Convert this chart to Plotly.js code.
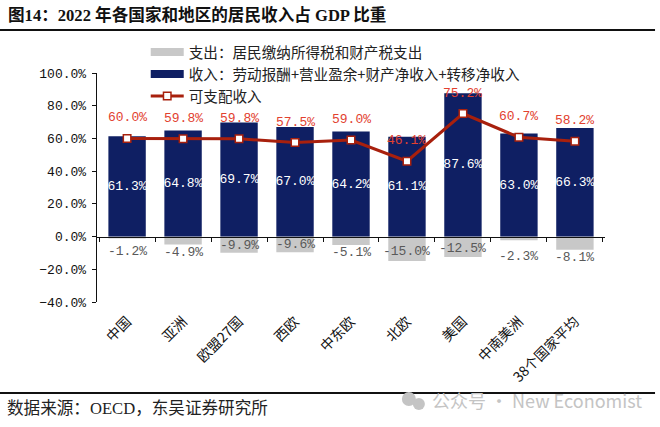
<!DOCTYPE html>
<html><head><meta charset="utf-8"><script src="https://cdn.plot.ly/plotly-3.0.1.min.js"></script>
<style>html,body{margin:0;padding:0;background:#fff}</style></head><body>
<div id="c" style="width:660px;height:427px"></div>
<script>
const categories = ['中国','亚洲','欧盟27国','西欧','中东欧','北欧','美国','中南美洲','38个国家平均'];
const income = [61.3,64.8,69.7,67.0,64.2,61.1,87.6,63.0,66.3];
const expense = [-1.2,-4.9,-9.9,-9.6,-5.1,-15.0,-12.5,-2.3,-8.1];
const disposable = [60.0,59.8,59.8,57.5,59.0,46.1,75.2,60.7,58.2];
const seriesNames = ['支出：居民缴纳所得税和财产税支出','收入：劳动报酬+营业盈余+财产净收入+转移净收入','可支配收入'];
const expenseLabelShift = [-13,-8,7,8,-8,10,9,-16,-8];

const mono = '"Liberation Mono","Noto Sans CJK SC",monospace';
const cjk = '"Noto Sans CJK SC",sans-serif';
const serif = '"Liberation Serif","Noto Sans CJK SC",serif';
const pct = v => v.toFixed(1) + '%';
const GRAY = '#C8C8C8', NAVY = '#0F1F63', RED = '#A8200D';

const traces = [
 {type:'bar',showlegend:false,x:categories,y:expense,width:0.668,marker:{color:GRAY},hoverinfo:'skip'},
 {type:'bar',showlegend:false,x:categories,y:income,width:0.668,marker:{color:NAVY},
  text:income.map(pct),textposition:'inside',insidetextanchor:'middle',textangle:0,constraintext:'none',
  textfont:{family:mono,size:13,color:'#fff'},hoverinfo:'skip'},
 {type:'scatter',mode:'lines',name:seriesNames[0],x:[null],y:[null],line:{color:GRAY,width:8}},
 {type:'scatter',mode:'lines',name:seriesNames[1],x:[null],y:[null],line:{color:NAVY,width:8}},
 {type:'scatter',mode:'lines+markers',name:seriesNames[2],x:categories,y:disposable,
  line:{color:RED,width:3},marker:{symbol:'square',size:7.5,color:'#fff',line:{color:RED,width:1.5}},hoverinfo:'skip'}
];
const ann = [];
categories.forEach((c,i)=>{
 ann.push({x:c,y:disposable[i],yshift:20.5,text:pct(disposable[i]),showarrow:false,font:{family:mono,size:13,color:'#E2412F'}});
 ann.push({x:c,y:expense[i],yshift:expenseLabelShift[i],text:pct(expense[i]),showarrow:false,font:{family:mono,size:13,color:'#595959'}});
});
const px = x => (x-97.3)/507.7, py = y => (302-y)/229;
const paperText = (x,y,text,font) => ({xref:'paper',yref:'paper',x:px(x),y:py(y),xanchor:'left',yanchor:'middle',text,showarrow:false,font});
ann.push(paperText(6,15,'<b>图14：2022 年各国家和地区的居民收入占 GDP 比重</b>',{family:serif,size:16.6,color:'#111'}));
ann.push(paperText(5,409,'数据来源：OECD，东吴证券研究所',{family:serif,size:16.6,color:'#222'}));
ann.push(paperText(430,400,'公众号 · New Economist',{family:cjk,size:18,color:'#C4C4C4'}));
const rule = y => ({type:'line',xref:'paper',yref:'paper',x0:px(0),x1:px(655),y0:py(y),y1:py(y),line:{color:'#111',width:1.8}});
const dot = (cx,cy,r) => ({type:'circle',xref:'paper',yref:'paper',x0:px(cx-r),x1:px(cx+r),y0:py(cy+r),y1:py(cy-r),fillcolor:'#C4C4C4',line:{width:0},layer:'above'});
const layout = {
 width:660,height:427,margin:{l:97.3,r:55,t:73,b:125},paper_bgcolor:'#fff',plot_bgcolor:'#fff',
 barmode:'relative',showlegend:true,
 legend:{x:px(146),y:py(36),xanchor:'left',yanchor:'top',bgcolor:'rgba(0,0,0,0)',itemwidth:33,itemclick:false,traceorder:'normal',font:{family:cjk,size:14.6,color:'#222'}},
 xaxis:{type:'category',categoryorder:'array',categoryarray:categories,anchor:'free',position:40/140,tickson:'boundaries',ticks:'outside',ticklen:4,tickcolor:'#111',showline:true,linecolor:'#111',linewidth:1.3,showgrid:false,zeroline:false,
  tickangle:-45,ticklabelstandoff:70,tickfont:{family:cjk,size:14,color:'#111'}},
 yaxis:{range:[-40,100],dtick:20,tickformat:'.1f',ticksuffix:'%',ticks:'outside',ticklen:4,tickcolor:'#111',showline:true,linecolor:'#111',linewidth:1.3,showgrid:false,zeroline:false,ticklabelstandoff:3,
  tickfont:{family:mono,size:13,color:'#111'}},
 annotations:ann,shapes:[rule(30),rule(393),dot(409,399,7),dot(419,404,6)]
};
Plotly.newPlot('c',traces,layout,{displayModeBar:false,staticPlot:true});
</script></body></html>
